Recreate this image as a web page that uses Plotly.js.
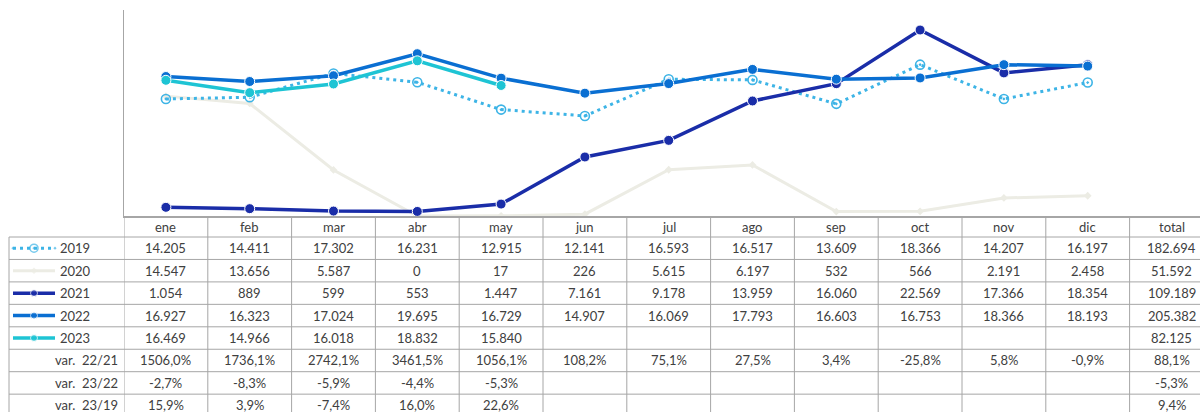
<!DOCTYPE html>
<html>
<head>
<meta charset="utf-8">
<script src="https://cdn.plot.ly/plotly-3.0.1.min.js"></script>
<style>html,body{margin:0;padding:0;background:#fff;}#chart{width:1200px;height:412px;}</style>
</head>
<body>
<div id="chart"></div>
<script>
// ---- data ----
const months = ['ene','feb','mar','abr','may','jun','jul','ago','sep','oct','nov','dic'];
const totalLabel = 'total';
const years = ['2019','2020','2021','2022','2023'];
const v2019 = [14205,14411,17302,16231,12915,12141,16593,16517,13609,18366,14207,16197];
const v2020 = [14547,13656,5587,0,17,226,5615,6197,532,566,2191,2458];
const v2021 = [1054,889,599,553,1447,7161,9178,13959,16060,22569,17366,18354];
const v2022 = [16927,16323,17024,19695,16729,14907,16069,17793,16603,16753,18366,18193];
const v2023 = [16469,14966,16018,18832,15840];
const totals = [182694,51592,109189,205382,82125];
const varLabels = ['var.\u00a0\u00a022/21','var.\u00a0\u00a023/22','var.\u00a0\u00a023/19'];
const var2221 = ['1506,0%','1736,1%','2742,1%','3461,5%','1056,1%','108,2%','75,1%','27,5%','3,4%','-25,8%','5,8%','-0,9%','88,1%'];
const var2322 = ['-2,7%','-8,3%','-5,9%','-4,4%','-5,3%','','','','','','','','-5,3%'];
const var2319 = ['15,9%','3,9%','-7,4%','16,0%','22,6%','','','','','','','','9,4%'];

// ---- styles ----
const series = [
  {name:'2020', y:v2020, color:'#ECECE4', width:3, dash:'solid', symbol:'diamond', size:6, mline:0},
  {name:'2019', y:v2019, color:'#3DB4E6', width:3, dash:'3px,4px', symbol:'circle-open-dot', size:9, mline:1.6},
  {name:'2021', y:v2021, color:'#1A2DA8', width:3.5, dash:'solid', symbol:'circle', size:10, mline:1},
  {name:'2022', y:v2022, color:'#0A6FD2', width:3.5, dash:'solid', symbol:'circle', size:10, mline:1},
  {name:'2023', y:v2023, color:'#1EC4D4', width:3.5, dash:'solid', symbol:'circle', size:10, mline:1}
];
const legendStyle = {
  '2019': {color:'#3DB4E6', width:3, dash:'3px,4px', symbol:'circle-open-dot', size:8, mline:1.6},
  '2020': {color:'#ECECE4', width:3, dash:'solid', symbol:'diamond', size:5, mline:0},
  '2021': {color:'#1A2DA8', width:3.5, dash:'solid', symbol:'circle', size:7, mline:1},
  '2022': {color:'#0A6FD2', width:3.5, dash:'solid', symbol:'circle', size:7, mline:1},
  '2023': {color:'#1EC4D4', width:3.5, dash:'solid', symbol:'circle', size:7, mline:1}
};

const W = 1200, H = 412;
const plotLeft = 124, axisY = 216, topY = 10;
const headerY = 226.5, rowTop = 237, rowH = 22.45;
const gridColor = '#A6A6A6';
const textColor = '#404040';
const FONT = 'Lato, "Open Sans", sans-serif';
const cats = months.concat([totalLabel]);

function fmt(n){ return String(n).replace(/\B(?=(\d{3})+(?!\d))/g, '.'); }

const traces = [];
series.forEach(s => {
  const isOpen = s.symbol.indexOf('open') >= 0;
  traces.push({
    type:'scatter', mode:'lines+markers', x: months.slice(0, s.y.length), y: s.y,
    xaxis:'x', yaxis:'y', name:s.name, showlegend:false, hoverinfo:'skip',
    line:{color:s.color, width:s.width, dash:s.dash},
    marker:{symbol:s.symbol, size:s.size, color: isOpen ? s.color : s.color,
      line:{color: isOpen ? s.color : '#ffffff', width:s.mline}}
  });
});

// legend samples in the table's first column
const rowCenters = [];
for (let i = 0; i < 8; i++) rowCenters.push(rowTop + rowH * (i + 0.5));
years.forEach((yr, i) => {
  const st = legendStyle[yr];
  const isOpen = st.symbol.indexOf('open') >= 0;
  traces.push({
    type:'scatter', mode:'lines+markers', x:[13,34,55], y:[rowCenters[i],rowCenters[i],rowCenters[i]],
    xaxis:'x2', yaxis:'y2', showlegend:false, hoverinfo:'skip',
    line:{color:st.color, width:st.width, dash:st.dash},
    marker:{symbol:st.symbol, size:[0, st.size, 0], color:st.color,
      line:{color: isOpen ? st.color : '#ffffff', width:st.mline}}
  });
});

const shapes = [];
const annotations = [];
// horizontal row lines
for (let i = 0; i <= 8; i++) {
  const y = rowTop + rowH * i;
  shapes.push({type:'line', xref:'paper', yref:'y2', x0:9/W, x1:1, y0:y, y1:y, line:{color:gridColor, width:1}});
}
// vertical column lines
for (let k = 0; k <= cats.length; k++) {
  shapes.push({type:'line', xref:'x', yref:'y2', x0:k-0.5, x1:k-0.5, y0:axisY, y1:H, line:{color:gridColor, width:1}});
}
shapes.push({type:'line', xref:'x2', yref:'y2', x0:9, x1:9, y0:rowTop, y1:H, line:{color:gridColor, width:1}});

const tfont = {family:FONT, size:13, color:textColor};
cats.forEach((c, k) => {
  annotations.push({xref:'x', yref:'y2', x:k, y:headerY, text:c, showarrow:false, font:tfont, xanchor:'center', yanchor:'middle'});
});
const dataRows = [v2019, v2020, v2021, v2022, v2023];
dataRows.forEach((arr, i) => {
  arr.forEach((v, k) => {
    annotations.push({xref:'x', yref:'y2', x:k, y:rowCenters[i], text:fmt(v), showarrow:false, font:tfont, xanchor:'center', yanchor:'middle'});
  });
  annotations.push({xref:'x', yref:'y2', x:12, y:rowCenters[i], text:fmt(totals[i]), showarrow:false, font:tfont, xanchor:'center', yanchor:'middle'});
  annotations.push({xref:'x2', yref:'y2', x:58, y:rowCenters[i], text:years[i], showarrow:false, font:tfont, xanchor:'left', yanchor:'middle'});
});
[var2221, var2322, var2319].forEach((arr, j) => {
  const r = 5 + j;
  arr.forEach((t, k) => {
    if (t) annotations.push({xref:'x', yref:'y2', x:k, y:rowCenters[r], text:t, showarrow:false, font:tfont, xanchor:'center', yanchor:'middle'});
  });
  annotations.push({xref:'x2', yref:'y2', x:120, y:rowCenters[r], text:varLabels[j], showarrow:false, font:tfont, xanchor:'right', yanchor:'middle'});
});

const plotH = H - topY;
const splitFrac = (H - axisY) / plotH;
const layout = {
  width:W, height:H, margin:{l:0, r:0, t:topY, b:0, pad:0},
  paper_bgcolor:'#ffffff', plot_bgcolor:'rgba(0,0,0,0)',
  showlegend:false,
  xaxis:{type:'category', categoryorder:'array', categoryarray:cats, domain:[plotLeft/W, 1],
    range:[-0.5, -0.5 + (W - plotLeft)/83.8], showgrid:false, zeroline:false, showticklabels:false,
    ticks:'', showline:true, linecolor:gridColor, linewidth:1.5, anchor:'y', fixedrange:true},
  yaxis:{domain:[splitFrac, 1], range:[0, 25000], showgrid:false, zeroline:false, showticklabels:false,
    ticks:'', showline:true, linecolor:gridColor, linewidth:1.5, anchor:'x', fixedrange:true},
  xaxis2:{domain:[0, plotLeft/W], range:[0, plotLeft], visible:false, anchor:'y2', fixedrange:true},
  yaxis2:{domain:[0, splitFrac], range:[H, axisY], visible:false, anchor:'x2', fixedrange:true},
  shapes:shapes, annotations:annotations, hovermode:false
};
Plotly.newPlot('chart', traces, layout, {staticPlot:true, displayModeBar:false});
</script>
</body>
</html>
